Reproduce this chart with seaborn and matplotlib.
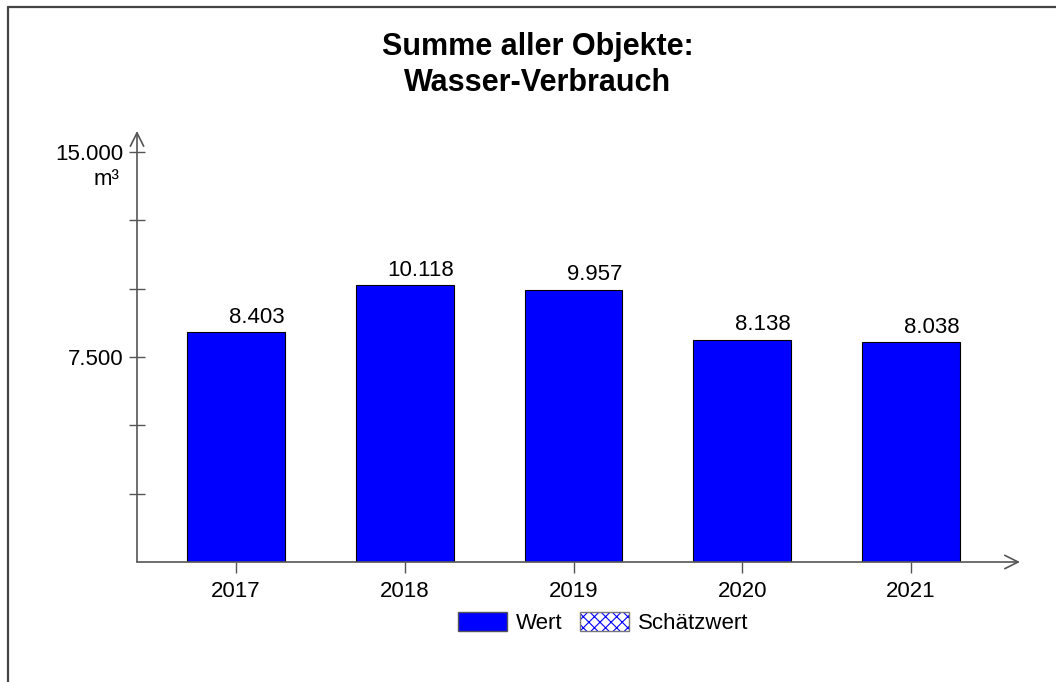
import matplotlib
matplotlib.use("Agg")
import matplotlib.pyplot as plt
import matplotlib.ticker as mticker
from matplotlib.patches import Patch
from matplotlib.legend_handler import HandlerTuple
import seaborn as sns

# ─────────────────────────────────────────────
# DATA
# ─────────────────────────────────────────────
years = ["2017", "2018", "2019", "2020", "2021"]
values = [8403, 10118, 9957, 8138, 8038]
major_ticks = [7500, 15000]
minor_ticks = [2500, 5000, 10000, 12500]
title = "Summe aller Objekte:\nWasser-Verbrauch"
unit = "m³"
legend_labels = ["Wert", "Schätzwert"]

BLUE = "#0000ff"
AXIS = "#555555"

sns.set_theme(style="white")
plt.rcParams["font.family"] = ["Liberation Sans", "DejaVu Sans"]
plt.rcParams["text.color"] = "black"
plt.rcParams["xtick.color"] = "black"
plt.rcParams["ytick.color"] = "black"
plt.rcParams["hatch.linewidth"] = 0.8

fig = plt.figure(figsize=(10.56, 6.82), dpi=100)
# axes: x 137..1020 px, y 131..562 px
ax = fig.add_axes([137 / 1056, 1 - 562 / 682, (1020 - 137) / 1056, (562 - 131) / 682])

sns.barplot(x=years, y=values, color=BLUE, edgecolor="black", linewidth=0.8,
            width=0.58, saturation=1, ax=ax)

ax.set_xlim(-0.587, 4.646)
ax.set_ylim(0, 15768)

# value labels, right-aligned to bar edge
for bar, v in zip(ax.patches, values):
    ax.text(bar.get_x() + bar.get_width(), bar.get_height() + 160,
            f"{v:,}".replace(",", "."), ha="right", va="bottom", fontsize=16)

# axes with arrows
for s in ax.spines.values():
    s.set_visible(False)
ax.annotate("", xy=(0, 1), xytext=(0, 0), xycoords="axes fraction",
            arrowprops=dict(arrowstyle="->,head_length=0.8,head_width=0.4",
                            color=AXIS, lw=1.2, shrinkA=0, shrinkB=0))
ax.annotate("", xy=(1, 0), xytext=(0, 0), xycoords="axes fraction",
            arrowprops=dict(arrowstyle="->,head_length=0.8,head_width=0.4",
                            color=AXIS, lw=1.2, shrinkA=0, shrinkB=0))

ax.yaxis.set_major_locator(mticker.FixedLocator(major_ticks))
ax.yaxis.set_minor_locator(mticker.FixedLocator(minor_ticks))
ax.yaxis.set_major_formatter(mticker.FuncFormatter(lambda x, _: f"{x:,.0f}".replace(",", ".")))
ax.tick_params(axis="y", which="both", direction="inout", length=12, width=1,
               color=AXIS, labelcolor="black", left=True, labelsize=16, pad=4)
ax.tick_params(axis="x", direction="out", length=8, width=1, color=AXIS,
               labelcolor="black", bottom=True, labelsize=16, pad=6)
ax.set_xlabel("")
ax.set_ylabel("")
ax.text(-0.02, 15000 - 620, unit, transform=ax.get_yaxis_transform(),
        ha="right", va="top", fontsize=16)

fig.text(538 / 1056, 1 - 65 / 682, title, ha="center", va="center",
         fontsize=22, fontweight="bold", linespacing=1.25)

# legend: solid patch + hatched patch with grey frame
hatched = (Patch(facecolor="white", edgecolor=BLUE, hatch="xxx", linewidth=0),
           Patch(facecolor="none", edgecolor="#777777", linewidth=1))
handles = [Patch(facecolor=BLUE, edgecolor="#555555", linewidth=1), hatched]
leg = fig.legend(handles, legend_labels, loc="center", ncol=2,
                 bbox_to_anchor=(603 / 1056, 1 - 623 / 682), frameon=False,
                 fontsize=16, handlelength=2.2, handleheight=0.9,
                 handletextpad=0.4, columnspacing=0.8,
                 handler_map={tuple: HandlerTuple(ndivide=1)})

# border top and left
fig.add_artist(plt.Line2D([8 / 1056, 8 / 1056], [0, 1 - 7 / 682], color="#444444", lw=1.6))
fig.add_artist(plt.Line2D([8 / 1056, 1], [1 - 7 / 682, 1 - 7 / 682], color="#444444", lw=1.6))

fig.savefig("out.png", dpi=100, facecolor="white")
